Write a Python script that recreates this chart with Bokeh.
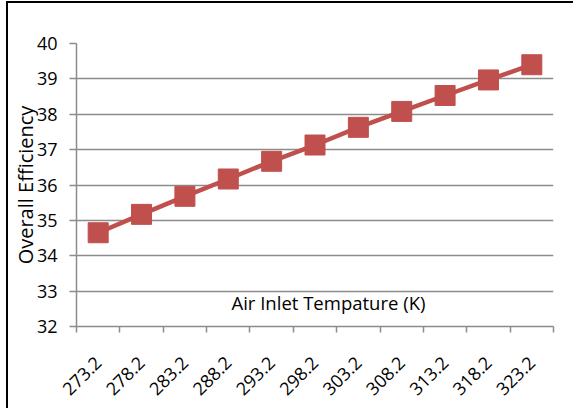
import math
from bokeh.plotting import figure
from bokeh.layouts import column
from bokeh.models import Range1d, FixedTicker, Label, ColumnDataSource
from bokeh.embed import file_html
from bokeh.resources import INLINE

categories = ["273.2", "278.2", "283.2", "288.2", "293.2", "298.2",
              "303.2", "308.2", "313.2", "318.2", "323.2"]
efficiency = [34.65, 35.17, 35.68, 36.17, 36.67, 37.13,
              37.63, 38.08, 38.53, 38.97, 39.40]
y_ticks = [32, 33, 34, 35, 36, 37, 38, 39, 40]
x_title = "Air Inlet Tempature (K)"
y_title = "Overall Efficiency"

FONT = "Open Sans"
RED = "#C0504D"
GRID = "#8C8C8C"

xs = [i + 0.5 for i in range(len(categories))]
src = ColumnDataSource(dict(x=xs, y=efficiency))

p = figure(width=565, height=405, output_backend="svg", toolbar_location=None,
           x_range=Range1d(0, len(categories)), y_range=Range1d(y_ticks[0], y_ticks[-1]),
           min_border_left=68, min_border_top=40, min_border_right=20, min_border_bottom=82)
p.outline_line_color = None
p.xgrid.grid_line_color = None
p.ygrid.grid_line_color = GRID
p.ygrid.grid_line_width = 1.5

p.yaxis.ticker = FixedTicker(ticks=y_ticks)
p.xaxis.ticker = FixedTicker(ticks=xs, minor_ticks=list(range(len(categories) + 1)))
p.xaxis.major_label_overrides = {x: c for x, c in zip(xs, categories)}
p.xaxis.major_label_orientation = math.pi / 4
p.xaxis.major_tick_line_color = None
p.xaxis.minor_tick_line_color = GRID
p.xaxis.minor_tick_line_width = 1.5
p.xaxis.minor_tick_in = 0
p.xaxis.minor_tick_out = 6
for ax in (p.xaxis, p.yaxis):
    ax.axis_line_color = GRID
    ax.axis_line_width = 1.5
    ax.major_label_text_font = FONT
    ax.major_label_text_color = "black"
    ax.axis_label_text_font = FONT
    ax.axis_label_text_font_style = "normal"
    ax.axis_label_text_color = "black"
p.xaxis.major_label_text_font_size = "18px"
p.xaxis.major_label_standoff = 27
p.yaxis.major_label_text_font_size = "18px"
p.yaxis.major_tick_line_color = GRID
p.yaxis.major_tick_line_width = 1.5
p.yaxis.major_tick_in = 0
p.yaxis.major_tick_out = 7
p.yaxis.minor_tick_line_color = None
p.yaxis.major_label_standoff = 12
p.yaxis.axis_label = y_title
p.yaxis.axis_label_text_font_size = "20px"
p.yaxis.axis_label_standoff = -5

p.line("x", "y", source=src, line_color=RED, line_width=4.5)
p.scatter("x", "y", source=src, marker="square", size=20,
          fill_color=RED, line_color=RED)

p.add_layout(Label(x=5.81, y=32.68, text=x_title, text_font=FONT,
                   text_font_size="18.5px", text_align="center",
                   text_baseline="middle", text_color="black"))

layout = column(p, styles={"border-left": "2px solid black",
                           "border-top": "2px solid black",
                           "overflow": "visible",
                           "margin-left": "6px", "margin-top": "1px"})

open("out.html", "w").write(file_html(layout, INLINE))
